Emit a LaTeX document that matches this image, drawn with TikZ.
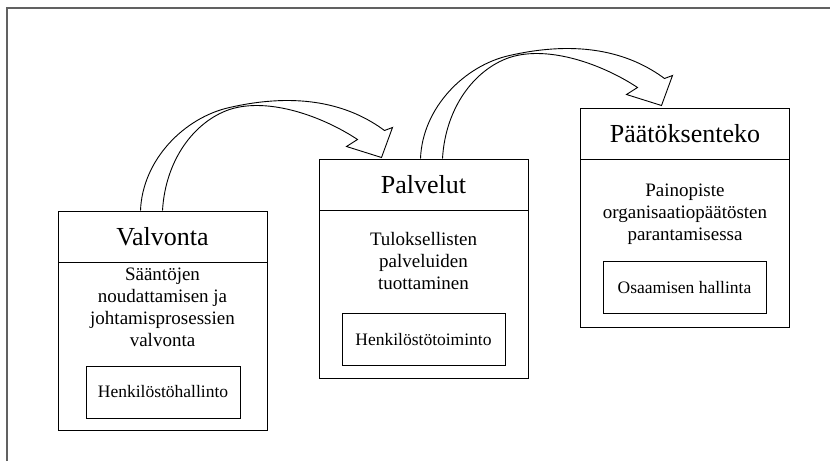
\documentclass[tikz,border=0pt]{standalone}
\usepackage{fontspec}
\setmainfont{Liberation Serif}
\usepackage{xcolor}
\usetikzlibrary{calc}

\definecolor{framegray}{gray}{0.38}

\tikzset{
  titlebox/.style={draw,line width=1pt,minimum width=209pt,minimum height=51pt,inner sep=0pt,
    font=\fontsize{26}{30}\selectfont},
  bodybox/.style={draw,line width=1pt,minimum width=209pt,minimum height=168pt,inner sep=0pt},
  bodytext/.style={align=center,inner sep=0pt,font=\fontsize{19}{22}\selectfont},
  unitbox/.style={draw,line width=1pt,minimum height=52pt,inner sep=0pt,
    font=\fontsize{17.5}{20}\selectfont},
  ribbon/.style={line width=0.9pt,line join=miter}
}

\begin{document}
\begin{tikzpicture}[x=1pt,y=-1pt]
  \useasboundingbox (0,0) rectangle (830,461);
  \draw[framegray,line width=1.3pt] (7,461) -- (7,8) -- (830,8);

  % Valvonta
  \node[titlebox] (valvonta) at (162.5,236.5) {Valvonta};
  \node[bodybox] (valvontab) at (162.5,346) {};
  \node[bodytext] (valvontat) at (162.5,307) {Sääntöjen\\noudattamisen ja\\johtamisprosessien\\valvonta};
  \node[unitbox,minimum width=154pt] (hallinto) at (163,392) {Henkilöstöhallinto};

  % Palvelut
  \node[titlebox] (palvelut) at (423.5,184.5) {Palvelut};
  \node[bodybox] (palvelutb) at (423.5,294) {};
  \node[bodytext] (palvelutt) at (423.5,261) {Tuloksellisten\\palveluiden\\tuottaminen};
  \node[unitbox,minimum width=163pt] (toiminto) at (423.5,339.5) {Henkilöstötoiminto};

  % Paatoksenteko
  \node[titlebox] (paatos) at (685,133.5) {Päätöksenteko};
  \node[bodybox] (paatosb) at (685,243) {};
  \node[bodytext] (paatost) at (685,214) {Painopiste\\organisaatiopäätösten\\parantamisessa};
  \node[unitbox,minimum width=163pt] (osaaminen) at (684.5,287.5) {Osaamisen hallinta};

  % ribbon arrows
  \coordinate (a1) at ($(valvonta.north west)+(83,0)$);
  \coordinate (a2) at ($(palvelut.north west)+(102,0)$);
  \foreach \a in {a1,a2}{
    \begin{scope}[shift={(\a)}]
      \draw[ribbon] (0,0) .. controls (2,-51) and (44,-93) .. (89,-103)
        .. controls (159,-119) and (209,-106) .. (244,-80)
        -- (252,-83) -- (241,-53) -- (206,-64) -- (217,-71)
        .. controls (184,-93) and (129,-114) .. (89,-101)
        .. controls (54,-89) and (25,-51) .. (22,0);
    \end{scope}
  }
\end{tikzpicture}
\end{document}
